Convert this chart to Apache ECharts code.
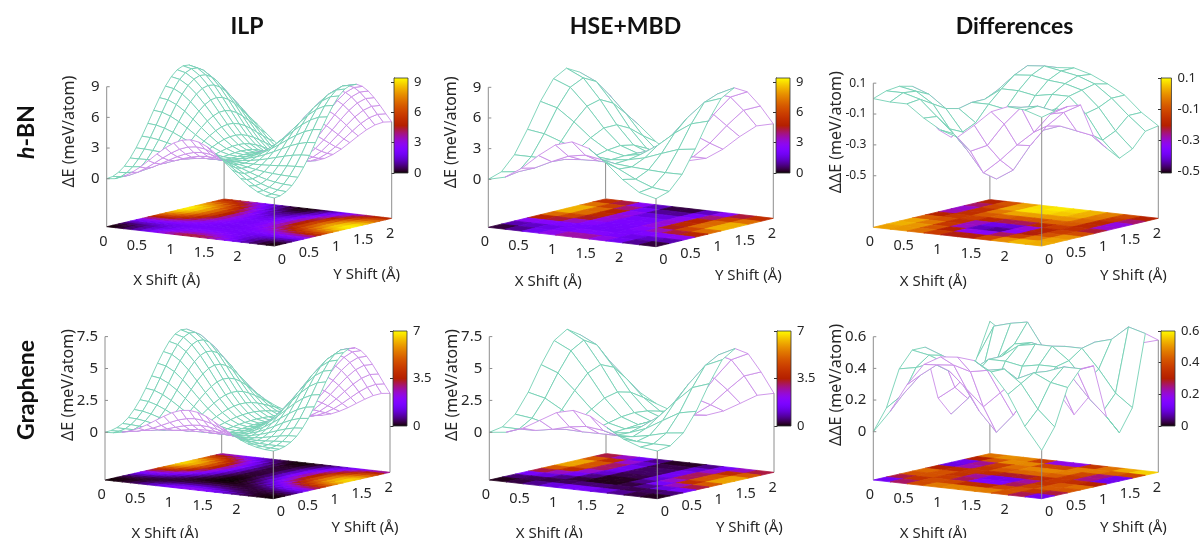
<!DOCTYPE html>
<html><head><meta charset="utf-8">
<style>html,body{margin:0;padding:0;background:#fff}#c{width:1203px;height:538px}</style>
<script src="https://cdn.jsdelivr.net/npm/echarts@6/dist/echarts.min.js"></script>
</head><body><div id="c"></div>
<script>
const xFine=[0,.125,.25,.375,.5,.625,.75,.875,1,1.125,1.25,1.375,1.5,1.625,1.75,1.875,2,2.125,2.25,2.375,2.5];
const yFine=[0,.108,.217,.325,.433,.541,.65,.758,.866,.974,1.083,1.191,1.299,1.407,1.516,1.624,1.732,1.84,1.949,2.057,2.165];
const xCoarse=[0,.25,.5,.75,1,1.25,1.5,1.75,2,2.25,2.5];
const yCoarse=[0,.241,.481,.722,.962,1.203,1.443,1.684,1.924,2.165];
const xTicks=[0,.5,1,1.5,2];
const yTicks=[0,.5,1,1.5,2];
const columnTitles=['ILP','HSE+MBD','Differences'];

const hbnIlp=[
[0,.10,.41,.89,1.52,2.24,2.99,3.68,4.25,4.62,4.75,4.62,4.25,3.68,2.99,2.24,1.52,.89,.41,.10,0],
[.08,.16,.40,.78,1.29,1.87,2.47,3.04,3.51,3.82,3.93,3.82,3.51,3.04,2.47,1.87,1.29,.78,.40,.16,.08],
[.35,.41,.58,.85,1.22,1.65,2.11,2.55,2.91,3.15,3.23,3.15,2.91,2.55,2.11,1.65,1.22,.85,.58,.41,.35],
[.81,.85,.95,1.11,1.34,1.62,1.92,2.22,2.47,2.64,2.70,2.64,2.47,2.22,1.92,1.62,1.34,1.11,.95,.85,.81],
[1.48,1.49,1.52,1.57,1.65,1.77,1.91,2.07,2.20,2.29,2.33,2.29,2.20,2.07,1.91,1.77,1.65,1.57,1.52,1.49,1.48],
[2.34,2.32,2.27,2.20,2.14,2.09,2.07,2.07,2.09,2.10,2.11,2.10,2.09,2.07,2.07,2.09,2.14,2.20,2.27,2.32,2.34],
[3.35,3.30,3.18,2.99,2.77,2.55,2.35,2.20,2.10,2.04,2.02,2.04,2.10,2.20,2.35,2.55,2.77,2.99,3.18,3.30,3.35],
[4.46,4.39,4.18,3.87,3.49,3.10,2.73,2.42,2.19,2.05,2.00,2.05,2.19,2.42,2.73,3.10,3.49,3.87,4.18,4.39,4.46],
[5.61,5.51,5.22,4.78,4.25,3.68,3.15,2.68,2.33,2.11,2.03,2.11,2.33,2.68,3.15,3.68,4.25,4.78,5.22,5.51,5.61],
[6.71,6.59,6.22,5.67,4.98,4.25,3.55,2.94,2.47,2.17,2.07,2.17,2.47,2.94,3.55,4.25,4.98,5.67,6.22,6.59,6.71],
[7.70,7.55,7.11,6.45,5.63,4.75,3.90,3.15,2.57,2.20,2.08,2.20,2.57,3.15,3.90,4.75,5.63,6.45,7.11,7.55,7.70],
[8.49,8.32,7.82,7.07,6.13,5.12,4.14,3.27,2.60,2.17,2.03,2.17,2.60,3.27,4.14,5.12,6.13,7.07,7.82,8.32,8.49],
[9.03,8.84,8.30,7.48,6.45,5.34,4.25,3.29,2.55,2.08,1.91,2.08,2.55,3.29,4.25,5.34,6.45,7.48,8.30,8.84,9.03],
[9.28,9.09,8.52,7.64,6.55,5.37,4.22,3.20,2.40,1.90,1.73,1.90,2.40,3.20,4.22,5.37,6.55,7.64,8.52,9.09,9.28],
[9.23,9.03,8.45,7.55,6.43,5.22,4.03,2.98,2.17,1.65,1.48,1.65,2.17,2.98,4.03,5.22,6.43,7.55,8.45,9.03,9.23],
[8.89,8.69,8.11,7.22,6.10,4.90,3.72,2.68,1.87,1.35,1.18,1.35,1.87,2.68,3.72,4.90,6.10,7.22,8.11,8.69,8.89],
[8.30,8.11,7.55,6.68,5.61,4.44,3.30,2.30,1.52,1.02,.85,1.02,1.52,2.30,3.30,4.44,5.61,6.68,7.55,8.11,8.30],
[7.52,7.34,6.81,5.99,4.98,3.89,2.83,1.89,1.16,.69,.54,.69,1.16,1.89,2.83,3.89,4.98,5.99,6.81,7.34,7.52],
[6.62,6.45,5.96,5.22,4.30,3.30,2.34,1.48,.82,.41,.26,.41,.82,1.48,2.34,3.30,4.30,5.22,5.96,6.45,6.62],
[5.67,5.52,5.09,4.43,3.61,2.73,1.88,1.14,.56,.20,.07,.20,.56,1.14,1.88,2.73,3.61,4.43,5.09,5.52,5.67],
[4.75,4.62,4.25,3.68,2.99,2.24,1.52,.89,.41,.10,0,.10,.41,.89,1.52,2.24,2.99,3.68,4.25,4.62,4.75]];

const hbnHse=[
[0,.40,1.47,2.90,4.12,4.61,4.15,2.95,1.50,.42,0],
[.42,.62,1.19,1.99,2.72,3.01,2.75,2.02,1.22,.60,.40],
[1.78,1.78,1.79,1.90,2.07,2.14,2.05,1.92,1.82,1.74,1.76],
[3.96,3.72,3.14,2.52,2.09,1.94,2.12,2.50,3.12,3.70,3.92],
[6.39,5.94,4.76,3.40,2.38,2.01,2.35,3.42,4.80,5.90,6.35],
[8.30,7.65,5.99,4.04,2.52,1.96,2.50,4.00,6.02,7.70,8.28],
[9.02,8.26,6.33,4.05,2.26,1.60,2.30,4.10,6.30,8.20,9.00],
[8.33,7.59,5.67,3.40,1.62,.97,1.60,3.38,5.70,7.60,8.30],
[6.63,5.98,4.32,2.37,.86,.31,.88,2.40,4.30,6.00,6.60],
[4.61,4.12,2.90,1.47,.40,0,.42,1.50,2.92,4.15,4.55]];

const hbnDiff=[
[0,-.01,-.01,-.09,-.155,-.19,-.1,0,.045,.035,0],
[.03,.03,0,-.1,-.2,-.3,-.25,-.1,.02,.04,.02],
[.04,.02,-.05,-.2,-.32,-.46,-.365,-.255,-.16,-.03,.03],
[.02,-.02,-.1,-.24,-.4,-.52,-.45,-.28,-.14,-.04,.02],
[-.16,-.14,-.12,-.2,-.3,-.36,-.3,-.2,-.16,-.18,-.2],
[-.3,-.2,-.1,-.1,-.12,-.16,-.14,-.08,-.1,-.22,-.3],
[-.37,-.26,-.1,-.02,-.02,-.04,-.02,-.02,-.12,-.28,-.385],
[-.33,-.22,-.06,.05,.06,.04,.03,0,-.1,-.24,-.345],
[-.27,-.16,-.02,.09,.1,.08,.06,.02,-.06,-.16,-.25],
[-.235,-.14,-.05,.03,.07,.08,.05,0,-.06,-.16,-.235]];

const graIlp=[
[0,.04,.15,.33,.61,.96,1.37,1.77,2.13,2.37,2.45,2.37,2.13,1.77,1.37,.96,.61,.33,.15,.04,0],
[.03,.05,.10,.20,.37,.60,.88,1.18,1.45,1.63,1.70,1.63,1.45,1.18,.88,.60,.37,.20,.10,.05,.03],
[.15,.14,.14,.16,.23,.35,.51,.71,.89,1.02,1.07,1.02,.89,.71,.51,.35,.23,.16,.14,.14,.15],
[.38,.36,.31,.25,.22,.23,.29,.38,.49,.57,.60,.57,.49,.38,.29,.23,.22,.25,.31,.36,.38],
[.74,.71,.61,.48,.35,.25,.20,.20,.24,.27,.28,.27,.24,.20,.20,.25,.35,.48,.61,.71,.74],
[1.27,1.21,1.06,.85,.62,.42,.26,.16,.12,.10,.10,.10,.12,.16,.26,.42,.62,.85,1.06,1.21,1.27],
[1.93,1.86,1.66,1.37,1.03,.71,.44,.24,.11,.03,.01,.03,.11,.24,.44,.71,1.03,1.37,1.66,1.86,1.93],
[2.73,2.63,2.37,1.99,1.55,1.10,.70,.39,.17,.04,0,.04,.17,.39,.70,1.10,1.55,1.99,2.37,2.63,2.73],
[3.59,3.48,3.16,2.69,2.12,1.55,1.02,.59,.28,.10,.03,.10,.28,.59,1.02,1.55,2.12,2.69,3.16,3.48,3.59],
[4.48,4.34,3.97,3.40,2.72,2.02,1.36,.81,.41,.17,.08,.17,.41,.81,1.36,2.02,2.72,3.40,3.97,4.34,4.48],
[5.29,5.14,4.71,4.06,3.27,2.45,1.68,1.02,.54,.24,.13,.24,.54,1.02,1.68,2.45,3.27,4.06,4.71,5.14,5.29],
[5.98,5.81,5.33,4.61,3.73,2.81,1.94,1.20,.64,.29,.18,.29,.64,1.20,1.94,2.81,3.73,4.61,5.33,5.81,5.98],
[6.46,6.28,5.77,5.00,4.06,3.07,2.13,1.32,.71,.33,.20,.33,.71,1.32,2.13,3.07,4.06,5.00,5.77,6.28,6.46],
[6.69,6.50,5.98,5.18,4.21,3.19,2.21,1.38,.74,.35,.22,.35,.74,1.38,2.21,3.19,4.21,5.18,5.98,6.50,6.69],
[6.64,6.46,5.94,5.14,4.18,3.16,2.20,1.37,.74,.35,.21,.35,.74,1.37,2.20,3.16,4.18,5.14,5.94,6.46,6.64],
[6.32,6.15,5.65,4.89,3.97,3.00,2.08,1.29,.69,.32,.20,.32,.69,1.29,2.08,3.00,3.97,4.89,5.65,6.15,6.32],
[5.77,5.61,5.14,4.44,3.59,2.70,1.86,1.15,.61,.28,.16,.28,.61,1.15,1.86,2.70,3.59,4.44,5.14,5.61,5.77],
[5.03,4.89,4.47,3.85,3.10,2.31,1.58,.96,.50,.22,.12,.22,.50,.96,1.58,2.31,3.10,3.85,4.47,4.89,5.03],
[4.18,4.06,3.70,3.16,2.52,1.86,1.25,.74,.37,.15,.07,.15,.37,.74,1.25,1.86,2.52,3.16,3.70,4.06,4.18],
[3.30,3.19,2.89,2.45,1.93,1.40,.92,.53,.25,.08,.02,.08,.25,.53,.92,1.40,1.93,2.45,2.89,3.19,3.30],
[2.45,2.37,2.13,1.77,1.37,.96,.61,.33,.15,.04,0,.04,.15,.33,.61,.96,1.37,1.77,2.13,2.37,2.45]];

const graHse=[
[0,.15,.61,1.37,2.13,2.45,2.15,1.40,.63,.16,0],
[.19,.17,.21,.45,.79,.96,.80,.47,.22,.18,.18],
[.96,.79,.45,.21,.17,.18,.18,.22,.47,.80,.95],
[2.45,2.13,1.37,.61,.14,0,.15,.63,1.40,2.15,2.42],
[4.38,3.88,2.65,1.33,.40,.08,.42,1.35,2.68,3.90,4.35],
[6.04,5.39,3.78,1.97,.65,.18,.67,2.00,3.80,5.42,6.00],
[6.70,5.99,4.22,2.22,.75,.22,.77,2.25,4.25,6.00,6.65],
[6.04,5.39,3.78,1.97,.65,.18,.66,2.00,3.80,5.40,6.02],
[4.38,3.88,2.65,1.33,.40,.08,.42,1.35,2.66,3.90,4.36],
[2.45,2.13,1.37,.61,.15,0,.16,.63,1.38,2.15,2.45]];

const graDiff=[
[0,.14,.32,.46,.52,.53,.52,.46,.33,.14,0],
[.13,.23,.36,.44,.45,.42,.44,.46,.38,.23,.13],
[.36,.38,.42,.38,.28,.18,.28,.38,.43,.38,.36],
[.46,.44,.40,.28,.12,0,.12,.28,.42,.46,.46],
[.46,.42,.38,.33,.22,.14,.22,.32,.38,.42,.46],
[.12,.20,.32,.40,.40,.38,.40,.40,.34,.22,.12],
[0,.11,.28,.40,.48,.50,.50,.42,.30,.12,0],
[.14,.22,.36,.46,.48,.46,.48,.48,.36,.22,.14],
[.32,.53,.56,.58,.42,.20,.42,.50,.53,.62,.59],
[.53,.46,.42,.36,.14,0,.14,.36,.44,.50,.53]];

const zTicksHbn=[0,3,6,9], zTicksHbnDiff=[-.5,-.3,-.1,.1];
const zTicksGra=[0,2.5,5,7.5], zTicksGraDiff=[0,.2,.4,.6];
const cbTicksHbn=[0,3,6,9], cbTicksHbnDiff=[-.5,-.3,-.1,.1];
const cbTicksGra=[0,3.5,7], cbTicksGraDiff=[0,.2,.4,.6];

const GREEN='#74d0b4', PURPLE='#c98ce8', AXIS='#8e8e8e', INK='#262626', FONT='"Noto Sans"';

// layout of each panel: origin of its grid, projected corners and height scale (pixels)
const panels=[
 {o:[60,50],size:[340,240],L:[46.7,176.7],F:[214.3,196],R:[331.7,168.3],h0:48,zs:10.22,zf:15,xs:xFine,ys:yFine,z:hbnIlp,cb:[334,28,14,95],cbR:[0,9.4],cbT:cbTicksHbn,zT:zTicksHbn,zName:'ΔE (meV/atom)'},
 {o:[440,50],size:[340,240],L:[48.3,177.3],F:[216,196.7],R:[333.3,168.3],h0:48,zs:10.22,zf:15,xs:xCoarse,ys:yCoarse,z:hbnHse,cb:[336,28,14,95],cbR:[0,9.4],cbT:cbTicksHbn,zT:zTicksHbn,zName:'ΔE (meV/atom)'},
 {o:[820,50],size:[340,240],L:[53.3,177.3],F:[221.7,196],R:[338.3,168.3],h0:128.7,zs:154.3,zf:12,xs:xCoarse,ys:yCoarse,z:hbnDiff,cb:[341,28,14,95],cbR:[-.51,.1],cbT:cbTicksHbnDiff,zT:zTicksHbnDiff,zName:'ΔΔE (meV/atom)'},
 {o:[60,310],size:[340,228],L:[45,170],F:[213.3,188.7],R:[330,162.3],h0:47.7,zs:12.76,zf:15,xs:xFine,ys:yFine,z:graIlp,cb:[333,21,14,95],cbR:[0,7],cbT:cbTicksGra,zT:zTicksGra,zName:'ΔE (meV/atom)'},
 {o:[440,310],size:[340,228],L:[49.3,170],F:[217.3,188.7],R:[334,162.3],h0:47.7,zs:12.76,zf:15,xs:xCoarse,ys:yCoarse,z:graHse,cb:[337,21,14,95],cbR:[0,7],cbT:cbTicksGra,zT:zTicksGra,zName:'ΔE (meV/atom)'},
 {o:[820,310],size:[340,228],L:[53.3,170],F:[221.7,188.7],R:[338.3,162.3],h0:48.3,zs:158.3,zf:15,xs:xCoarse,ys:yCoarse,z:graDiff,cb:[341,21,14,95],cbR:[0,.6],cbT:cbTicksGraDiff,zT:zTicksGraDiff,zName:'ΔΔE (meV/atom)'}
];

function base(p,x,y){
  const xm=p.xs[p.xs.length-1], ym=p.ys[p.ys.length-1], u=x/xm, v=y/ym;
  return [p.L[0]+u*(p.F[0]-p.L[0])+v*(p.R[0]-p.F[0]), p.L[1]+u*(p.F[1]-p.L[1])+v*(p.R[1]-p.F[1])];
}
function proj(p,x,y,z){
  const b=base(p,x,y); return [b[0], b[1]-(p.h0+z*p.zs)];
}
function heat(p,z){
  const t=Math.max(0,Math.min(1,(z-p.cbR[0])/(p.cbR[1]-p.cbR[0])));
  const r=Math.sqrt(t), g=t*t*t, b=Math.max(0,Math.sin(2*Math.PI*t));
  return 'rgb('+Math.round(r*255)+','+Math.round(g*255)+','+Math.round(b*255)+')';
}
function cellsOf(p){
  const out=[];
  for(let j=p.ys.length-2;j>=0;j--) for(let i=0;i<p.xs.length-1;i++) out.push([i,j]);
  return out;
}
const grids=[],xAxes=[],yAxes=[],series=[];
panels.forEach((p,n)=>{
  const gi=grids.length;
  grids.push({left:p.o[0],top:p.o[1],width:p.size[0],height:p.size[1]});
  xAxes.push({gridIndex:gi,type:'value',min:0,max:p.size[0],show:false});
  yAxes.push({gridIndex:gi,type:'value',min:0,max:p.size[1],inverse:true,show:false});
  const ci=grids.length;
  grids.push({left:p.o[0]+p.cb[0],top:p.o[1]+p.cb[1],width:p.cb[2],height:p.cb[3]});
  xAxes.push({gridIndex:ci,type:'value',min:0,max:1,show:false});
  yAxes.push({gridIndex:ci,type:'value',min:p.cbR[0],max:p.cbR[1],position:'right',
    axisLine:{show:true,lineStyle:{color:'#333',width:1}},splitLine:{show:false},
    axisTick:{show:true,inside:true,length:3,customValues:p.cbT,lineStyle:{color:'#333'}},
    axisLabel:{show:true,customValues:p.cbT,margin:6,fontFamily:FONT,fontSize:13,color:INK,
      formatter:v=>String(+(+v).toFixed(2))}});
  const common={type:'custom',xAxisIndex:gi,yAxisIndex:gi,silent:true,animation:false,clip:false};
  const pt=(api,q)=>api.coord(q);
  // colour bar
  series.push({type:'custom',xAxisIndex:ci,yAxisIndex:ci,silent:true,animation:false,data:[[0,p.cbR[0],1,p.cbR[1]]],
    renderItem:(ps,api)=>{
      const a=api.coord([0,p.cbR[1]]), b=api.coord([1,p.cbR[0]]);
      const stops=[];for(let i=0;i<=40;i++){stops.push({offset:i/40,color:heat(p,p.cbR[1]-(p.cbR[1]-p.cbR[0])*i/40)});}
      return {type:'rect',shape:{x:a[0],y:a[1],width:b[0]-a[0],height:b[1]-a[1]},
        style:{fill:new echarts.graphic.LinearGradient(0,0,0,1,stops),stroke:'#333',lineWidth:.8}};
    }});
  // heat map on the floor
  series.push(Object.assign({},common,{data:cellsOf(p),
    renderItem:(ps,api)=>{
      const i=api.value(0), j=api.value(1);
      const Z=p.z, m=(Z[j][i]+Z[j][i+1]+Z[j+1][i+1]+Z[j+1][i])/4;
      const pts=[[i,j],[i+1,j],[i+1,j+1],[i,j+1]].map(c=>pt(api,base(p,p.xs[c[0]],p.ys[c[1]])));
      const col=heat(p,m);
      return {type:'polygon',shape:{points:pts},style:{fill:col,stroke:col,lineWidth:.8}};
    }}));
  // back vertical edge, hidden by the surface
  const nx=p.xs.length-1, ny=p.ys.length-1, xm=p.xs[nx], ym=p.ys[ny];
  const vline=(api,x,y,z,c)=>({type:'line',shape:(()=>{const a=pt(api,base(p,x,y)),b=pt(api,proj(p,x,y,z));return {x1:a[0],y1:a[1],x2:b[0],y2:b[1]};})(),style:{stroke:c||AXIS,lineWidth:1}});
  series.push(Object.assign({},common,{data:[[0]],renderItem:(ps,api)=>vline(api,0,ym,p.z[ny][0])}));
  // wire surface, far cells first so nearer ones hide them
  series.push(Object.assign({},common,{data:cellsOf(p),
    renderItem:(ps,api)=>{
      const i=api.value(0), j=api.value(1), Z=p.z;
      const pr=[[i,j],[i+1,j],[i+1,j+1],[i,j+1]].map(c=>pt(api,proj(p,p.xs[c[0]],p.ys[c[1]],Z[c[1]][c[0]])));
      const cross=(pr[2][0]-pr[0][0])*(pr[3][1]-pr[1][1])-(pr[2][1]-pr[0][1])*(pr[3][0]-pr[1][0]);
      return {type:'polygon',shape:{points:pr},style:{fill:'#fff',stroke:cross<0?GREEN:PURPLE,lineWidth:.9}};
    }}));
  // other edges, z axis, ticks and names
  const txt=(api,q,text,o)=>{const c=pt(api,q);return Object.assign({type:'text',x:c[0],y:c[1],style:Object.assign({text:text,fontFamily:FONT,fontSize:13.5,fill:INK,align:'center',verticalAlign:'middle'},o&&o.style)},o&&o.el);};
  series.push(Object.assign({},common,{data:[[0]],renderItem:(ps,api)=>{
    const ch=[];
    ch.push(vline(api,xm,0,p.z[0][nx]));
    ch.push(vline(api,xm,ym,p.z[ny][nx]));
    const zTop=p.zT[p.zT.length-1];
    ch.push(vline(api,0,0,zTop));
    p.zT.forEach(t=>{
      const a=proj(p,0,0,t);
      const u=pt(api,a), w=pt(api,[a[0]+3,a[1]]);
      ch.push({type:'line',shape:{x1:u[0],y1:u[1],x2:w[0],y2:w[1]},style:{stroke:AXIS,lineWidth:1}});
      ch.push(txt(api,[a[0]-7,a[1]],String(t),{style:{align:'right',fontSize:p.zf}}));
    });
    xTicks.forEach(t=>{const b=base(p,t,0);ch.push(txt(api,[b[0]-3.3,b[1]+15],String(t),{style:{fontSize:14.5}}));});
    yTicks.forEach(t=>{const b=base(p,xm,t);ch.push(txt(api,[b[0]+7.5,b[1]+13.5],String(t),{style:{fontSize:14.5}}));});
    ch.push(txt(api,[p.L[0]+60,p.L[1]+54],'X Shift (Å)',{style:{fontSize:15}}));
    ch.push(txt(api,[p.L[0]+260,p.L[1]+48],'Y Shift (Å)',{style:{fontSize:15}}));
    ch.push(txt(api,[p.L[0]-37,p.L[1]-95],p.zName,{el:{rotation:Math.PI/2},style:{fontSize:16}}));
    return {type:'group',children:ch};
  }}));
});
const title=[[247,columnTitles[0]],[625.5,columnTitles[1]],[1014.5,columnTitles[2]]].map(t=>({text:t[1],left:t[0],top:15,padding:0,textAlign:'center',
  textStyle:{fontFamily:'Lato',fontWeight:'bold',fontSize:23,color:'#111'}}));
const chart=echarts.init(document.getElementById('c'),null,{renderer:'canvas'});
chart.setOption({animation:false,backgroundColor:'#fff',title,grid:grids,xAxis:xAxes,yAxis:yAxes,series,
  graphic:[
   {type:'text',x:27,y:132,rotation:Math.PI/2,style:{text:'{i|h}-BN',align:'center',verticalAlign:'middle',fontFamily:'Lato',fontWeight:'bold',fontSize:23,fill:'#111',rich:{i:{fontStyle:'italic',fontFamily:'Lato',fontWeight:'bold',fontSize:23,fill:'#111'}}}},
   {type:'text',x:27,y:390,rotation:Math.PI/2,style:{text:'Graphene',align:'center',verticalAlign:'middle',fontFamily:'Lato',fontWeight:'bold',fontSize:23,fill:'#111'}}
  ]});
</script></body></html>
